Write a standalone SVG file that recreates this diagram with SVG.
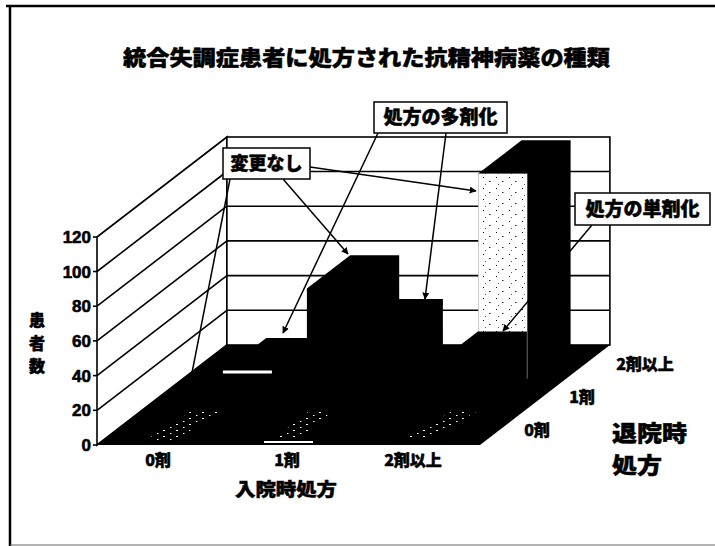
<svg xmlns="http://www.w3.org/2000/svg" width="715" height="546" viewBox="0 0 715 546">
<defs>
<style>
.jp{font-family:"Noto Sans CJK JP","Noto Sans",sans-serif;font-weight:900;fill:#000;stroke:#000;stroke-width:0.5}
.num{font-family:"Liberation Sans",Arial,sans-serif;font-weight:bold;fill:#000;stroke:#000;stroke-width:0.6}
.grid{stroke:#000;stroke-width:1.6;fill:none}
.bar{fill:#000}
.box{fill:#fff;stroke:#000;stroke-width:1.5}
.arr{stroke:#000;stroke-width:1.5;fill:none;marker-end:url(#ah)}
</style>
<marker id="ah" viewBox="0 0 10 10" refX="9" refY="5" markerWidth="7" markerHeight="7" orient="auto" markerUnits="userSpaceOnUse">
<path d="M0,0 L10,5 L0,10 z" fill="#000"/>
</marker>
<pattern id="lspeck" width="13" height="11" patternUnits="userSpaceOnUse">
<rect width="13" height="11" fill="#fff"/>
<rect x="2" y="1" width="1" height="1" fill="#000"/>
<rect x="8" y="5" width="1.5" height="1" fill="#222"/>
<rect x="4" y="8" width="1" height="1" fill="#555"/>
</pattern>
<pattern id="dspeck" width="13" height="6" patternUnits="userSpaceOnUse">
<rect x="1" y="1" width="1.5" height="1" fill="#fff"/>
<rect x="7" y="4" width="2" height="1" fill="#fff"/>
</pattern>
</defs>
<rect width="715" height="546" fill="#fff"/>

<g id="frame">
<line x1="6" y1="6" x2="715" y2="6" stroke="#000" stroke-width="2.5"/>
<line x1="10" y1="6" x2="10" y2="546" stroke="#000" stroke-width="2.5"/>
<line x1="10" y1="545" x2="715" y2="545" stroke="#666" stroke-width="1"/>
</g>

<g id="title">
<text class="jp" x="366.5" y="65" font-size="21" text-anchor="middle" textLength="487" lengthAdjust="spacingAndGlyphs">統合失調症患者に処方された抗精神病薬の種類</text>
</g>

<g id="walls">
<polygon points="97,445 97,237 226.9,137 226.9,345" fill="#fff" stroke="#000" stroke-width="1.6"/>
<rect x="226.9" y="137" width="383" height="208" fill="#fff" stroke="#000" stroke-width="1.6"/>
<g class="grid">
<line x1="97" y1="410.3" x2="226.9" y2="310.3"/>
<line x1="97" y1="375.6" x2="226.9" y2="275.6"/>
<line x1="97" y1="340.9" x2="226.9" y2="240.9"/>
<line x1="97" y1="306.2" x2="226.9" y2="206.2"/>
<line x1="97" y1="271.5" x2="226.9" y2="171.5"/>
<line x1="226.9" y1="310.3" x2="609.9" y2="310.3"/>
<line x1="226.9" y1="275.6" x2="609.9" y2="275.6"/>
<line x1="226.9" y1="240.9" x2="609.9" y2="240.9"/>
<line x1="226.9" y1="206.2" x2="609.9" y2="206.2"/>
<line x1="226.9" y1="171.5" x2="609.9" y2="171.5"/>
<line x1="93" y1="445" x2="97" y2="445"/>
<line x1="93" y1="410.3" x2="97" y2="410.3"/>
<line x1="93" y1="375.6" x2="97" y2="375.6"/>
<line x1="93" y1="340.9" x2="97" y2="340.9"/>
<line x1="93" y1="306.2" x2="97" y2="306.2"/>
<line x1="93" y1="271.5" x2="97" y2="271.5"/>
<line x1="93" y1="237" x2="97" y2="237"/>
</g>
</g>

<g id="floor">
<polygon points="97,445 480,445 609.9,345 226.9,345" fill="#000"/>
<polygon points="146,440 175,440 220,412 190,412" fill="url(#dspeck)"/>
<polygon points="276,437 300,437 332,412 308,412" fill="url(#dspeck)"/>
<polygon points="403,438 428,438 476,412 451,412" fill="url(#dspeck)"/>
</g>

<g id="bar-back-0">
<polygon class="bar" points="222.9,378.3 222.9,371.3 266.2,338 315.2,338 315.2,345 271.9,378.3"/>
<rect x="222.9" y="370.5" width="49" height="3" fill="#fff"/>
</g>
<g id="bar-back-1">
<polygon class="bar" points="350.6,378.3 350.6,332.3 393.9,299 442.9,299 442.9,345 399.6,378.3"/>
</g>
<g id="bar-back-2">
<polygon class="bar" points="478.3,378.3 478.3,173.6 521.6,140.3 570.6,140.3 570.6,345 527.3,378.3"/>
<rect x="478.3" y="173.6" width="49" height="204.7" fill="url(#lspeck)"/>
</g>
<g id="bar-mid-1">
<polygon class="bar" points="306.9,411.7 306.9,288.5 350.2,255.2 399.2,255.2 399.2,378.3 355.9,411.7"/>
</g>
<g id="bar-mid-2">
<polygon class="bar" points="434.6,411.7 434.6,364.7 477.9,331.4 526.9,331.4 526.9,378.3 483.6,411.7"/>
</g>
<g id="bar-front-1">
<rect x="264" y="441" width="49" height="2" fill="#fff"/>
</g>

<g id="axis-labels">
<text class="num" x="91" y="451" font-size="17" text-anchor="end">0</text>
<text class="num" x="91" y="416.3" font-size="17" text-anchor="end">20</text>
<text class="num" x="91" y="381.6" font-size="17" text-anchor="end">40</text>
<text class="num" x="91" y="346.9" font-size="17" text-anchor="end">60</text>
<text class="num" x="91" y="312.2" font-size="17" text-anchor="end">80</text>
<text class="num" x="91" y="277.5" font-size="17" text-anchor="end">100</text>
<text class="num" x="91" y="243" font-size="17" text-anchor="end">120</text>
<text class="jp" x="37" y="326" font-size="16" text-anchor="middle">患</text>
<text class="jp" x="37" y="349" font-size="16" text-anchor="middle">者</text>
<text class="jp" x="37" y="372" font-size="16" text-anchor="middle">数</text>
<text class="jp" x="158" y="466" font-size="16" text-anchor="middle">0剤</text>
<text class="jp" x="287" y="466" font-size="16" text-anchor="middle">1剤</text>
<text class="jp" x="413" y="466" font-size="16" text-anchor="middle">2剤以上</text>
<text class="jp" x="286" y="496" font-size="18" text-anchor="middle" textLength="102" lengthAdjust="spacingAndGlyphs">入院時処方</text>
<text class="jp" x="537" y="436" font-size="16" text-anchor="middle">0剤</text>
<text class="jp" x="582" y="403" font-size="16" text-anchor="middle">1剤</text>
<text class="jp" x="645" y="370" font-size="16" text-anchor="middle">2剤以上</text>
<text class="jp" x="612" y="441" font-size="22" textLength="75" lengthAdjust="spacingAndGlyphs">退院時</text>
<text class="jp" x="612" y="473" font-size="22" textLength="50" lengthAdjust="spacingAndGlyphs">処方</text>
</g>

<g id="connectors">
<line class="arr" x1="310" y1="167" x2="476" y2="191"/>
<line class="arr" x1="283" y1="179" x2="348" y2="254"/>
<line class="arr" x1="230" y1="179" x2="189" y2="388"/>
<line class="arr" x1="378" y1="133" x2="283" y2="333"/>
<line class="arr" x1="446" y1="133" x2="425" y2="299"/>
<line class="arr" x1="592" y1="225" x2="503" y2="331"/>
</g>

<g id="label-henkou">
<rect class="box" x="223" y="148" width="87" height="31"/>
<text class="jp" x="266.5" y="170" font-size="18" text-anchor="middle">変更なし</text>
</g>
<g id="label-tazai">
<rect class="box" x="374" y="102" width="133" height="31"/>
<text class="jp" x="440.5" y="124" font-size="19" text-anchor="middle">処方の多剤化</text>
</g>
<g id="label-tanzai">
<rect class="box" x="575" y="193" width="135" height="32"/>
<text class="jp" x="642.5" y="216" font-size="19" text-anchor="middle">処方の単剤化</text>
</g>
</svg>
